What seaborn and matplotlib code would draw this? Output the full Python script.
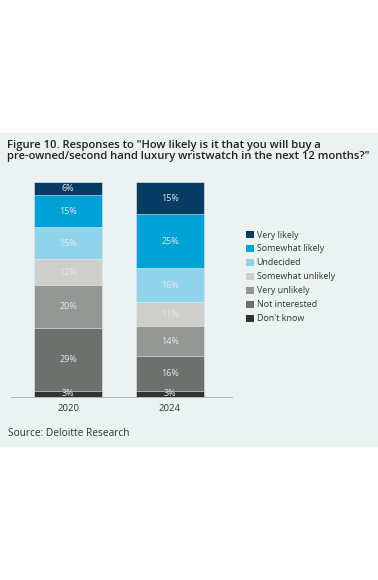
import matplotlib
matplotlib.use('Agg')
import matplotlib.pyplot as plt
from matplotlib.patches import Patch, Rectangle
import seaborn as sns
import pandas as pd
import numpy as np

sns.set_theme(style='white')
plt.rcParams['font.family'] = ['Open Sans', 'DejaVu Sans']

# datos
years = ['2020', '2024']
respuestas = ['Very likely', 'Somewhat likely', 'Undecided', 'Somewhat unlikely',
              'Very unlikely', 'Not interested', "Don't know"]
pct_2020 = [6, 15, 15, 12, 20, 29, 3]
pct_2024 = [15, 25, 16, 11, 14, 16, 3]
colores = ['#063B63', '#00A2D6', '#92D3EC', '#CECECA', '#959795', '#6D716D', '#333333']

titulo = 'Figure 10. Responses to "How likely is it that you will buy a\npre-owned/second hand luxury wristwatch in the next 12 months?"'
fuente = 'Source: Deloitte Research'

panel = '#EAF3F2'

df = pd.DataFrame({'year': np.repeat(years, len(respuestas)),
                   'respuesta': respuestas * len(years),
                   'pct': pct_2020 + pct_2024})
# acumulado desde abajo (Don't know es la base)
df['orden'] = df['respuesta'].map({r: i for i, r in enumerate(respuestas)})
df = df.sort_values(['year', 'orden'], ascending=[True, False])
df['top'] = df.groupby('year')['pct'].cumsum()
df['centro'] = df['top'] - df['pct'] / 2

fig = plt.figure(figsize=(3.78, 5.80), dpi=100, facecolor='white')
fig.patches.append(Rectangle((0, 1 - 446 / 580), 1, (446 - 133) / 580,
                             transform=fig.transFigure, color=panel, zorder=-5))

ax = fig.add_axes([11 / 378, 1 - 397 / 580, 221 / 378, 215 / 580])
ax.set_facecolor('none')

# barras superpuestas: de la mas alta (acumulado 100) a la base
for resp, color in zip(respuestas, colores):
    sub = df[df['respuesta'] == resp]
    sns.barplot(data=sub, x='year', y='top', order=years, color=color,
                width=0.676, edgecolor=panel, linewidth=0.4, ax=ax,
                errorbar=None, saturation=1)

xpos = {y: i for i, y in enumerate(years)}
for _, row in df.iterrows():
    ax.text(xpos[row['year']], row['centro'], f"{row['pct']}%", ha='center',
            va='center', fontsize=6.5, color='#E6E8E8')

ax.set_xlim(-0.559, 1.608)
ax.set_ylim(0, 100)
ax.set_xlabel('')
ax.set_ylabel('')
ax.set_yticks([])
for s in ['top', 'right', 'left']:
    ax.spines[s].set_visible(False)
ax.spines['bottom'].set_color('#A9ADAD')
ax.spines['bottom'].set_linewidth(0.6)
ax.tick_params(axis='x', length=0, pad=5, labelsize=6.8, labelcolor='#333333')

handles = [Patch(facecolor=c, edgecolor='none') for c in colores]
fig.legend(handles, respuestas, loc='upper left', bbox_to_anchor=(246 / 378, 1 - 230.5 / 580),
           frameon=False, fontsize=6.4, handlelength=0.85, handleheight=0.85,
           handletextpad=0.35, labelspacing=0.56, borderpad=0, borderaxespad=0,
           labelcolor='#333333')

fig.text(7 / 378, 1 - 151 / 580, titulo, fontsize=8.1, fontweight='semibold',
         color='#222222', va='center', ha='left', linespacing=1.1)
fig.text(8 / 378, 1 - 434 / 580, fuente, fontsize=7.3, color='#333333',
         va='center', ha='left')

plt.savefig('out.png', dpi=100)
